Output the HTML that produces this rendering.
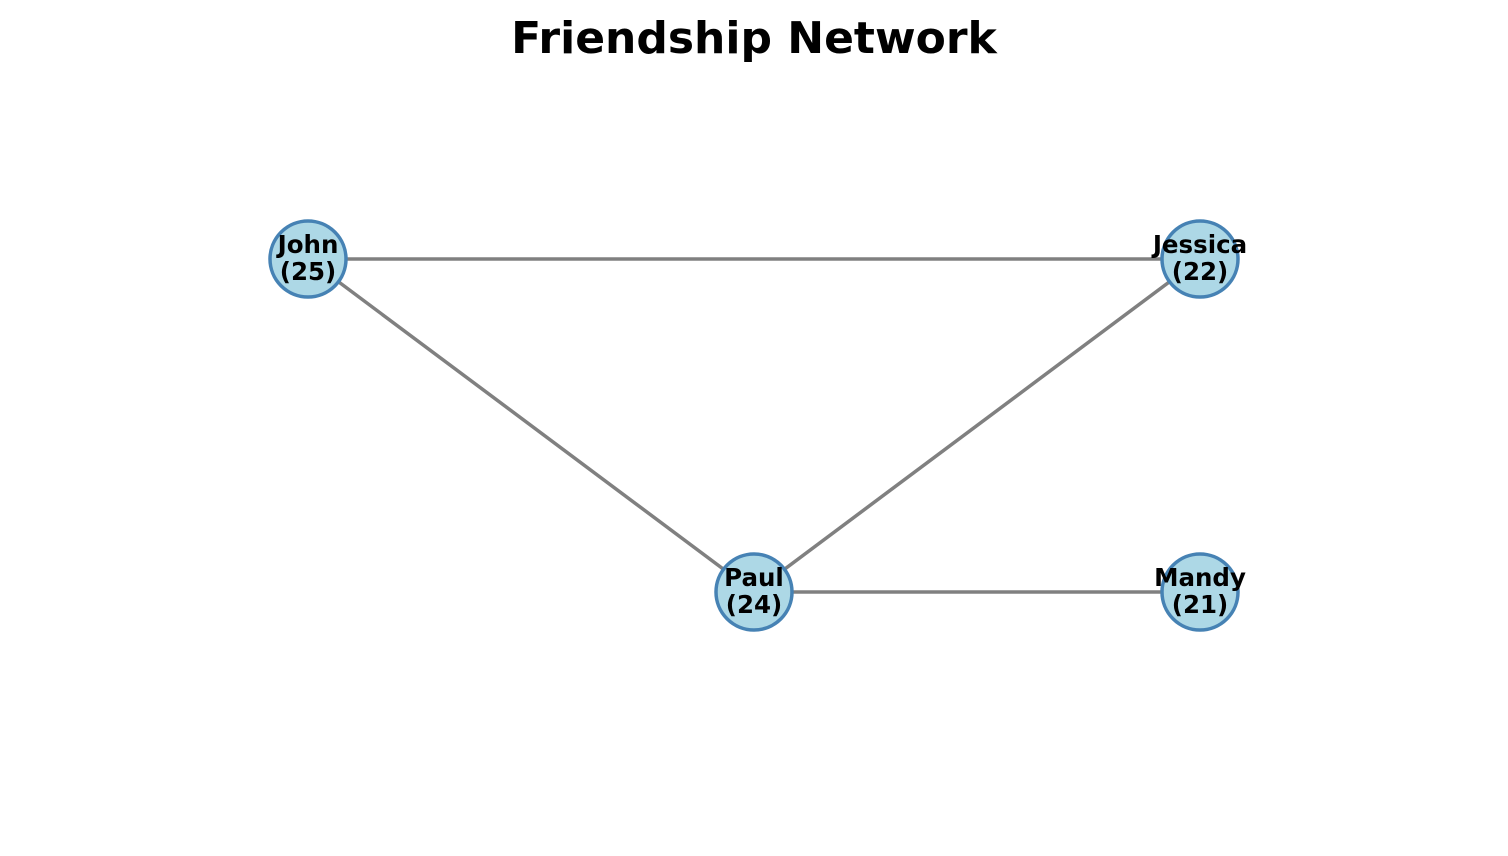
<!DOCTYPE html>
<html><head><style>body{margin:0;background:#fff}</style></head><body>
<svg width="1508" height="851" xmlns="http://www.w3.org/2000/svg">
<rect width="1508" height="851" fill="#fff"/>
<text x="754" y="53" text-anchor="middle" font-family="DejaVu Sans" font-weight="bold" font-size="44">Friendship Network</text>
<g stroke="#808080" stroke-width="3.5">
<line x1="308" y1="259" x2="1200" y2="259"/>
<line x1="308" y1="259" x2="754" y2="592"/>
<line x1="1200" y1="259" x2="754" y2="592"/>
<line x1="754" y1="592" x2="1200" y2="592"/>
</g>
<g fill="#add8e6" stroke="#4682b4" stroke-width="3.5">
<circle cx="308" cy="259" r="38"/>
<circle cx="1200" cy="259" r="38"/>
<circle cx="754" cy="592" r="38"/>
<circle cx="1200" cy="592" r="38"/>
</g>
<g font-family="DejaVu Sans" font-weight="bold" font-size="24.5" text-anchor="middle">
<text x="308" y="253">John</text><text x="308" y="280">(25)</text>
<text x="1200" y="253">Jessica</text><text x="1200" y="280">(22)</text>
<text x="754" y="586">Paul</text><text x="754" y="613">(24)</text>
<text x="1200" y="586">Mandy</text><text x="1200" y="613">(21)</text>
</g>
</svg>
</body></html>
